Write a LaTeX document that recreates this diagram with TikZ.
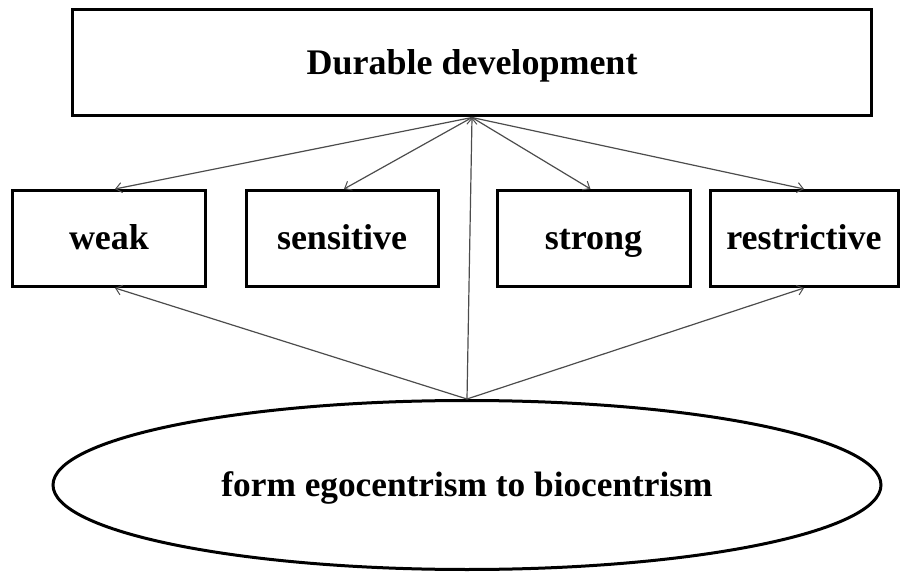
\documentclass[tikz,border=0pt]{standalone}
\usepackage{fontspec}
\setmainfont{Liberation Serif}
\usetikzlibrary{arrows.meta,shapes.geometric}
\tikzset{
  boxnode/.style={draw=black,line width=3pt,rectangle,inner sep=0pt,text height=30pt,text depth=7pt,font=\bfseries\fontsize{36}{38}\selectfont},
  ellnode/.style={draw=black,line width=3pt,ellipse,inner sep=0pt,text height=30pt,text depth=7pt,font=\bfseries\fontsize{35.3}{38}\selectfont},
  conn/.style={draw=black!70,line width=1.2pt,-{Straight Barb[length=6pt,width=10pt,line width=1pt]}}
}
\begin{document}
\begin{tikzpicture}[x=1pt,y=-1pt]
\useasboundingbox (0,0) rectangle (900,572);
\node[boxnode,minimum width=799pt,minimum height=106pt] (top) at (472,63) {Durable development};
\node[boxnode,minimum width=193pt,minimum height=96pt] (weak) at (109,238.5) {weak};
\node[boxnode,minimum width=192pt,minimum height=96pt] (sens) at (342,238.5) {sensitive};
\node[boxnode,minimum width=193pt,minimum height=96pt] (strong) at (593.5,238.5) {strong};
\node[boxnode,minimum width=188pt,minimum height=96pt] (restr) at (804,238.5) {restrictive};
\node[ellnode,minimum width=828pt,minimum height=169pt] (ell) at (467,485) {form egocentrism to biocentrism};
\draw[conn] (top.south) -- ([xshift=6pt]weak.north);
\draw[conn] (top.south) -- ([xshift=2pt]sens.north);
\draw[conn] (top.south) -- ([xshift=-3pt]strong.north);
\draw[conn] (top.south) -- (restr.north);
\draw[conn] (ell.north) -- ([xshift=6pt]weak.south);
\draw[conn] (ell.north) -- (restr.south);
\draw[conn] (ell.north) -- (top.south);
\end{tikzpicture}
\end{document}
